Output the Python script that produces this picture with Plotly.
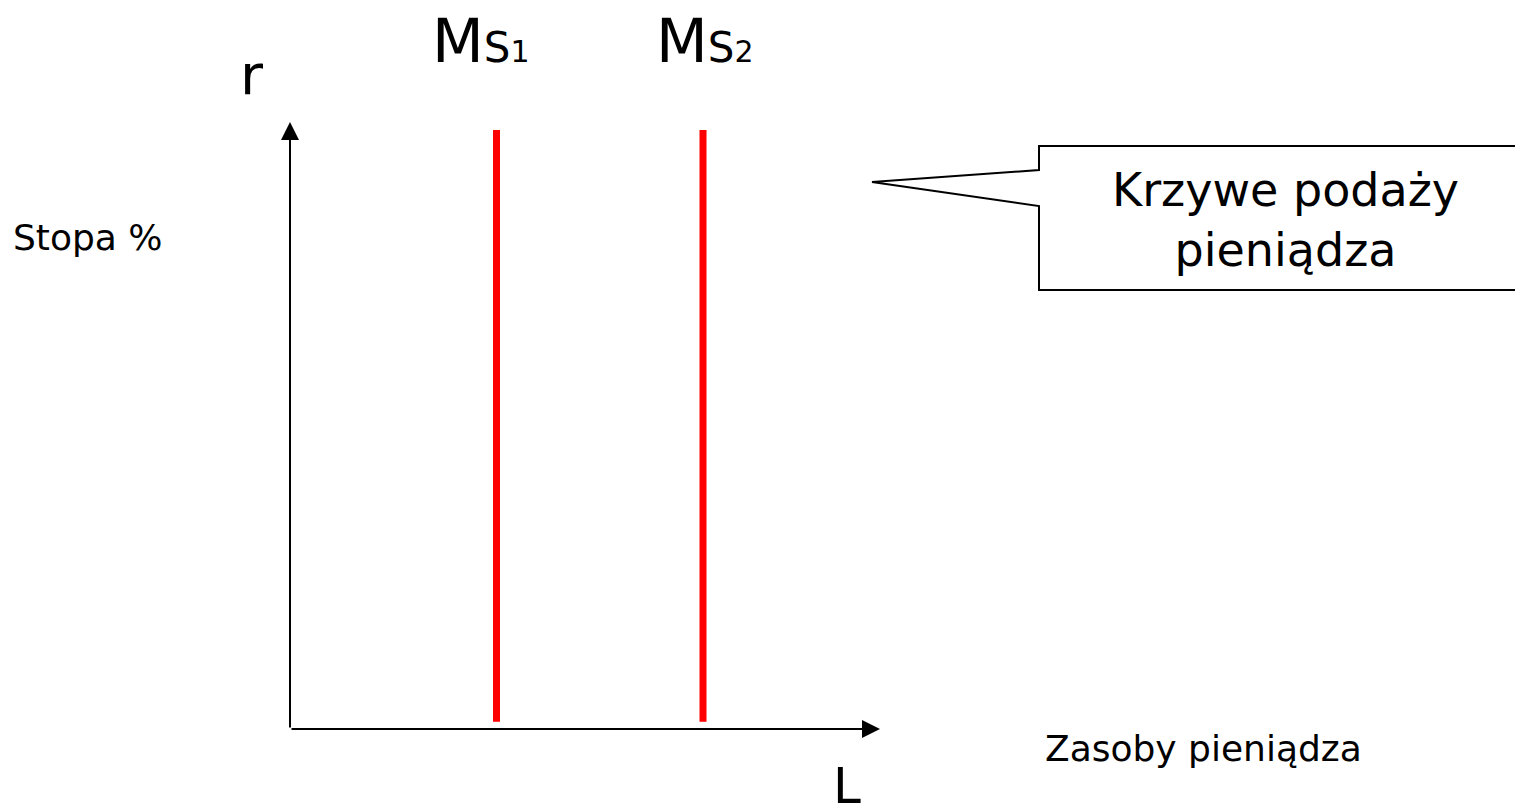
import plotly.graph_objects as go

# ---- data ----
curve_names = ["MS1", "MS2"]
supply_L = [3.5, 7.0]          # money supply level for each vertical curve
r_range = [0.12, 9.87]         # vertical extent of supply curves (interest rate)
axis_max_L = 10.0
axis_max_r = 10.0
x_title = "Zasoby pieniądza"
y_title = "Stopa %"
callout_text = "Krzywe podaży<br>pieniądza"

# ---- layout helpers (screen pixels -> data units) ----
OFF = 8                    # page body margin
WF, HF = 1523 - OFF, 810 - OFF
X0PX, Y0PX = 290, 729      # screen pixel of origin
SX, SY = 59.0, 60.7        # pixels per unit

def dx(px):
    return (px - X0PX) / SX

def dy(py):
    return (Y0PX - py) / SY

FONT = "DejaVu Sans"

fig = go.Figure()

for name, L in zip(curve_names, supply_L):
    fig.add_trace(go.Scatter(
        x=[L, L], y=r_range, mode="lines",
        line=dict(color="#FF0000", width=7),
        name=name, showlegend=False, hoverinfo="skip"))

annotations = []
# axes arrows
annotations.append(dict(x=axis_max_L, y=0, ax=0, ay=0, xref="x", yref="y",
                        axref="x", ayref="y", text="", showarrow=True,
                        arrowhead=2, arrowsize=1.8, arrowwidth=2, arrowcolor="black"))
annotations.append(dict(x=0, y=axis_max_r, ax=0, ay=0, xref="x", yref="y",
                        axref="x", ayref="y", text="", showarrow=True,
                        arrowhead=2, arrowsize=1.8, arrowwidth=2, arrowcolor="black"))

# curve labels
label_px = [430, 654]
for name, lpx in zip(curve_names, label_px):
    sub = name[2:]
    annotations.append(dict(
        x=dx(lpx), y=dy(78),
        xref="x", yref="y", xanchor="left", yanchor="bottom", showarrow=False,
        text=("M<span style='font-size:42px'>S</span>"
              f"<span style='font-size:30px'>{sub}</span>"),
        font=dict(family=FONT, size=60, color="black")))

# axis letters
annotations.append(dict(x=dx(252), y=dy(74), xref="x", yref="y", showarrow=False,
                        text="r", font=dict(family=FONT, size=56, color="black")))
annotations.append(dict(x=dx(847), y=dy(786), xref="x", yref="y", showarrow=False,
                        text="L", font=dict(family=FONT, size=50, color="black")))
annotations.append(dict(x=dx(11), y=dy(237), xref="x", yref="y", xanchor="left",
                        showarrow=False, text=y_title,
                        font=dict(family=FONT, size=36, color="black")))
annotations.append(dict(x=dx(1043), y=dy(748), xref="x", yref="y", xanchor="left",
                        showarrow=False, text=x_title,
                        font=dict(family=FONT, size=36, color="black")))
annotations.append(dict(x=dx(1285), y=dy(220), xref="x", yref="y",
                        showarrow=False, text=callout_text, align="center",
                        font=dict(family=FONT, size=46, color="black")))

# callout box path
path = (f"M {dx(1039)},{dy(170)} L {dx(1039)},{dy(146)} L {dx(1535)},{dy(146)} "
        f"L {dx(1535)},{dy(290)} L {dx(1039)},{dy(290)} L {dx(1039)},{dy(206)} "
        f"L {dx(872)},{dy(182)} Z")
shapes = [dict(type="path", path=path, xref="x", yref="y",
               line=dict(color="black", width=2), fillcolor="white", layer="below")]

fig.update_layout(
    width=WF, height=HF, margin=dict(l=0, r=0, t=0, b=0),
    paper_bgcolor="white", plot_bgcolor="white",
    xaxis=dict(range=[dx(OFF), dx(OFF + WF)], visible=False, fixedrange=True),
    yaxis=dict(range=[dy(OFF + HF), dy(OFF)], visible=False, fixedrange=True),
    annotations=annotations, shapes=shapes, showlegend=False)

fig.write_html("out.html")
